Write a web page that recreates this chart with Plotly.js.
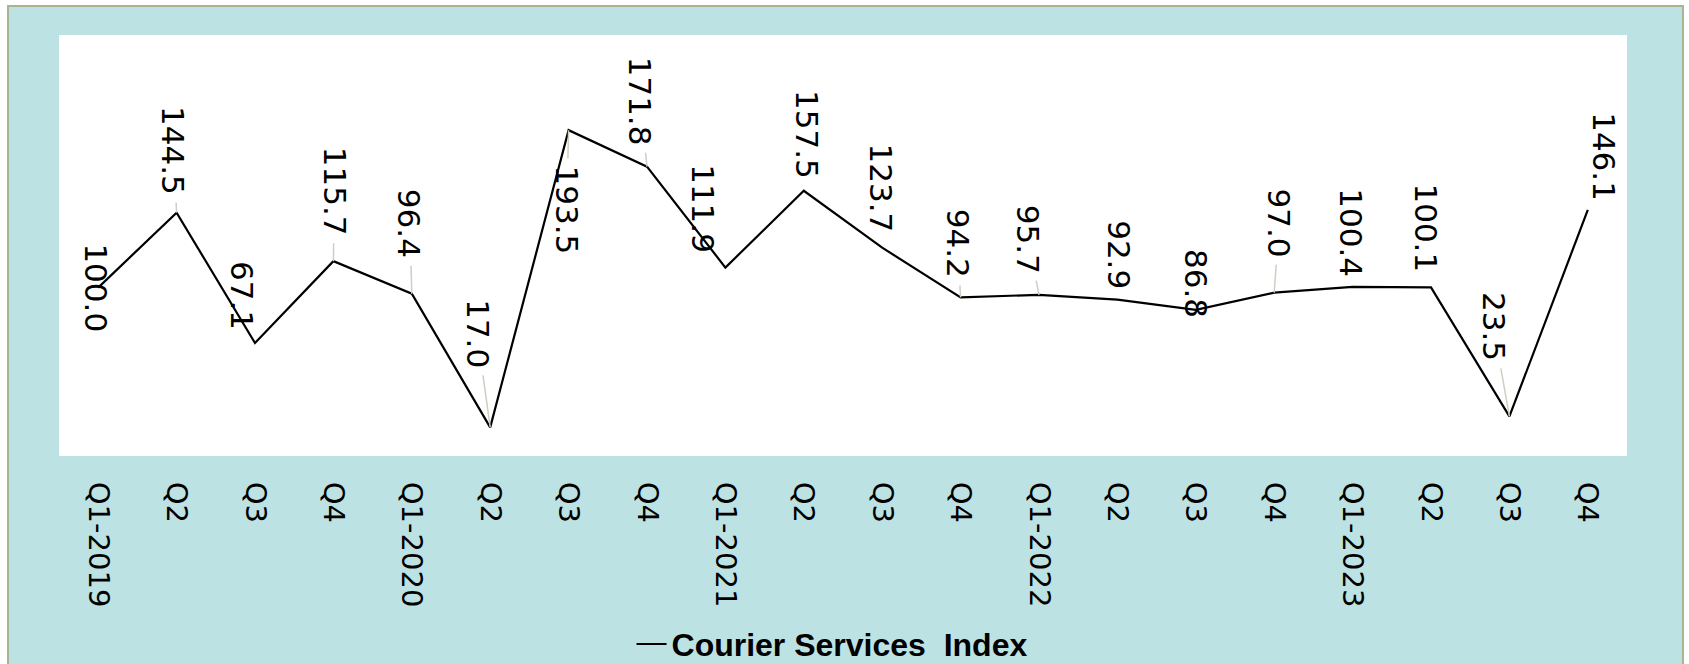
<!DOCTYPE html>
<html>
<head>
<meta charset="utf-8">
<script src="https://cdn.plot.ly/plotly-3.0.1.min.js"></script>
<style>
  html, body { margin: 0; padding: 0; background: #ffffff; overflow: hidden; }
  #wrap { position: absolute; left: 7px; top: 5px; width: 1673px; height: 659px;
          border-left: 2px solid #a8b590; border-top: 2px solid #a8b590; border-right: 2px solid #a8b590;
          background: #bde2e4; }
  #chart { width: 1673px; height: 657px; }
</style>
</head>
<body>
<div id="wrap"><div id="chart"></div></div>
<script>
// ---- data ----
const categories = ["Q1-2019","Q2","Q3","Q4","Q1-2020","Q2","Q3","Q4","Q1-2021","Q2","Q3","Q4","Q1-2022","Q2","Q3","Q4","Q1-2023","Q2","Q3","Q4"];
const values = [100.0,144.5,67.1,115.7,96.4,17.0,193.5,171.8,111.9,157.5,123.7,94.2,95.7,92.9,86.8,97.0,100.4,100.1,23.5,146.1];
const seriesName = "Courier Services  Index";

// ---- label placement (pixels, styling only) ----
const labelDx = [-2,-3,-13,1,-2,-13,-2,-7,-22,3,-1,-3,-11,2,0,5,-2,-5,-16,16];
const labelDy = [0,-62,-48,-70,-70,-94,80,-66,-59,-56,-60,-54,-56,-45,-26,-70,-54,-60,-90,-53];
const leader  = [0,1,0,1,1,1,1,1,0,0,0,1,1,0,0,1,0,0,1,0];

const idx = categories.map((c, i) => i);

const trace = {
  x: idx,
  y: values,
  type: 'scatter',
  mode: 'lines',
  name: seriesName,
  line: { color: '#000000', width: 2.2 },
  hoverinfo: 'skip'
};

const annotations = values.map((v, i) => ({
  x: i, y: v, xref: 'x', yref: 'y',
  text: v.toFixed(1),
  textangle: 90,
  showarrow: true,
  arrowhead: 0,
  arrowwidth: 1.5,
  arrowcolor: leader[i] ? '#c9d1c3' : 'rgba(0,0,0,0)',
  standoff: 0,
  startstandoff: 6,
  ax: labelDx[i], ay: labelDy[i],
  font: { family: 'DejaVu Sans', size: 31, color: '#000000' }
}));

const layout = {
  width: 1673, height: 657,
  margin: { l: 50, r: 55, t: 28, b: 208, autoexpand: false },
  paper_bgcolor: 'rgba(0,0,0,0)',
  plot_bgcolor: '#ffffff',
  showlegend: true,
  legend: {
    orientation: 'h', x: 0.493, xanchor: 'center', y: -0.447, yanchor: 'middle',
    bgcolor: 'rgba(0,0,0,0)',
    font: { family: 'Liberation Sans', size: 32, color: '#000000', weight: 'bold' }
  },
  xaxis: {
    type: 'linear',
    range: [-0.5, categories.length - 0.5],
    tickmode: 'array',
    tickvals: idx,
    ticktext: categories,
    tickangle: 90,
    ticks: 'outside', ticklen: 19, tickcolor: 'rgba(0,0,0,0)',
    showgrid: false, zeroline: false, showline: false,
    tickfont: { family: 'DejaVu Sans', size: 29, color: '#000000' },
    fixedrange: true
  },
  yaxis: {
    range: [0, 250],
    showgrid: false, zeroline: false, showline: false, showticklabels: false, ticks: '',
    fixedrange: true
  },
  annotations: annotations
};

Plotly.newPlot('chart', [trace], layout, { displayModeBar: false, staticPlot: true });
</script>
</body>
</html>
